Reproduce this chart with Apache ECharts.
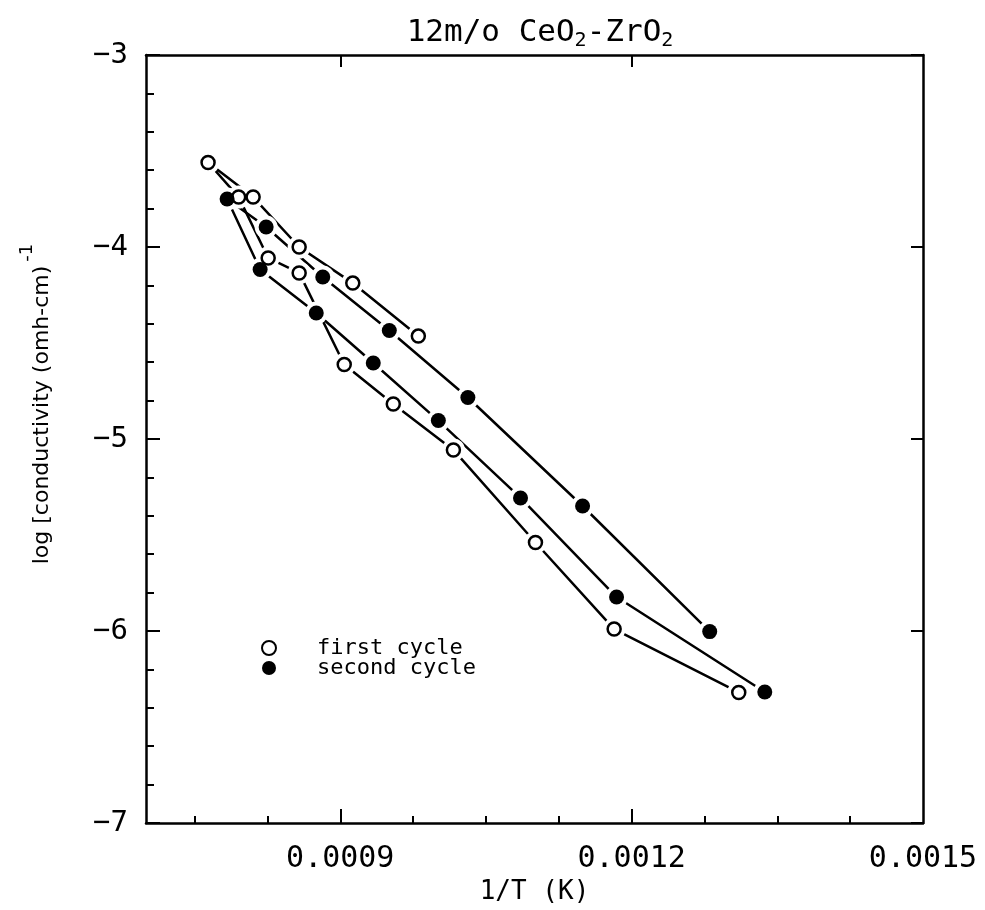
<!DOCTYPE html>
<html>
<head>
<meta charset="utf-8">
<script src="https://cdn.jsdelivr.net/npm/echarts@6/dist/echarts.min.js"></script>
<style>
html,body{margin:0;padding:0;background:#fff;}
#chart{width:985px;height:910px;}
</style>
</head>
<body>
<div id="chart"></div>
<script>
// ---- data ----
const firstCycleX = [0.0009804, 0.0009129, 0.0008577, 0.0008103, 0.0007639, 0.0007954, 0.0008258, 0.0008577, 0.0009041, 0.0009546, 0.0010165, 0.0011010, 0.0011820, 0.0013103];
const firstCycleY = [-4.464, -4.188, -4.000, -3.740, -3.560, -3.740, -4.057, -4.135, -4.612, -4.818, -5.057, -5.539, -5.990, -6.320];
const secondCycleX = [0.0012804, 0.0011495, 0.0010314, 0.0009505, 0.0008820, 0.0008237, 0.0007835, 0.0008175, 0.0008753, 0.0009340, 0.0010010, 0.0010856, 0.0011845, 0.0013371];
const secondCycleY = [-6.003, -5.349, -4.784, -4.435, -4.156, -3.896, -3.750, -4.117, -4.344, -4.604, -4.904, -5.307, -5.823, -6.318];
const xMinorTicks = [0.00075, 0.000825, 0.000975, 0.00105, 0.001125, 0.001275, 0.00135, 0.001425];
const xMajorTicks = [0.0009, 0.0012];
const xTickLabels = [0.0009, 0.0012, 0.0015];
const seriesNames = ['first cycle', 'second cycle'];

const pairs = (xs, ys) => xs.map((x, i) => [x, ys[i]]);
const firstData = pairs(firstCycleX, firstCycleY);
const secondData = pairs(secondCycleX, secondCycleY);

const MONO = 'DejaVu Sans Mono';
const SANS = 'DejaVu Sans';
const chart = echarts.init(document.getElementById('chart'), null, {renderer: 'canvas'});

const baseX = {
  type: 'value', min: 0.0007, max: 0.0015, gridIndex: 0,
  splitLine: {show: false}
};

chart.setOption({
  animation: false,
  backgroundColor: '#fff',
  textStyle: {fontFamily: MONO, color: '#000'},
  title: {
    text: '{a|12m/o CeO}{s|2}{a|-ZrO}{s|2}',
    left: 535, top: 10, textAlign: 'center',
    textStyle: {
      fontFamily: MONO, fontSize: 31, fontWeight: 'normal', color: '#000',
      rich: {
        a: {fontFamily: MONO, fontSize: 31, fontWeight: 'normal', color: '#000'},
        s: {fontFamily: MONO, fontSize: 20, fontWeight: 'normal', color: '#000', padding: [16, 0, 0, 0]}
      }
    }
  },
  grid: {left: 146, right: 62, top: 55, bottom: 87, containLabel: false},
  legend: {
    orient: 'vertical', left: 256, top: 632,
    itemWidth: 14, itemHeight: 14, itemGap: -2,
    data: seriesNames,
    textStyle: {fontFamily: MONO, fontSize: 22, color: '#000', padding: [0, 0, 0, 36]}
  },
  xAxis: [
    Object.assign({}, baseX, {
      position: 'bottom',
      name: '1/T (K)', nameLocation: 'middle', nameGap: 47,
      nameTextStyle: {fontFamily: MONO, fontSize: 26, color: '#000'},
      axisLine: {show: true, lineStyle: {color: '#000', width: 2.5}},
      axisTick: {show: true, inside: true, length: 7, customValues: xMinorTicks, lineStyle: {color: '#000', width: 2}},
      axisLabel: {show: true, customValues: xTickLabels, margin: 21, fontFamily: MONO, fontSize: 30, color: '#000',
        formatter: v => v.toFixed(4)}
    }),
    Object.assign({}, baseX, {
      position: 'bottom',
      axisLine: {show: false},
      axisTick: {show: true, inside: true, length: 14, customValues: xMajorTicks, lineStyle: {color: '#000', width: 2}},
      axisLabel: {show: false}
    }),
    Object.assign({}, baseX, {
      position: 'top',
      axisLine: {show: true, lineStyle: {color: '#000', width: 2.5}},
      axisTick: {show: true, inside: true, length: 12, customValues: xMajorTicks, lineStyle: {color: '#000', width: 2}},
      axisLabel: {show: false}
    })
  ],
  yAxis: [
    {
      type: 'value', min: -7, max: -3, interval: 1, position: 'left',
      name: '{a|log [conductivity (omh-cm)}{s|-1}',
      nameLocation: 'middle', nameRotate: 90, nameGap: 80,
      nameTextStyle: {
        padding: [0, 0, 0, 70],
        rich: {
          a: {fontFamily: SANS, fontSize: 22, color: '#000'},
          s: {fontFamily: SANS, fontSize: 18, color: '#000', padding: [0, 0, 30, 4]}
        }
      },
      axisLine: {show: true, lineStyle: {color: '#000', width: 2.5}},
      axisTick: {show: true, inside: true, length: 14, lineStyle: {color: '#000', width: 2}},
      minorTick: {show: true, splitNumber: 5, length: 8, lineStyle: {color: '#000', width: 2}},
      axisLabel: {margin: 18, fontFamily: MONO, fontSize: 29, color: '#000',
        formatter: v => String(v).replace('-', '\u2212')},
      splitLine: {show: false}
    },
    {
      type: 'value', min: -7, max: -3, interval: 1, position: 'right',
      axisLine: {show: true, lineStyle: {color: '#000', width: 2.5}},
      axisTick: {show: true, inside: true, length: 12, lineStyle: {color: '#000', width: 2}},
      axisLabel: {show: false},
      splitLine: {show: false}
    }
  ],
  series: [
    {type: 'line', name: 'first-line', data: firstData, xAxisIndex: 0, yAxisIndex: 0, showSymbol: false,
      lineStyle: {color: '#000', width: 2.5}, z: 2, silent: true},
    {type: 'line', name: 'second-line', data: secondData, xAxisIndex: 0, yAxisIndex: 0, showSymbol: false,
      lineStyle: {color: '#000', width: 2.5}, z: 2, silent: true},
    {type: 'scatter', name: 'mask1', data: firstData, symbolSize: 23, itemStyle: {color: '#fff', opacity: 1}, z: 3, silent: true},
    {type: 'scatter', name: 'mask2', data: secondData, symbolSize: 23, itemStyle: {color: '#fff', opacity: 1}, z: 3, silent: true},
    {type: 'scatter', name: seriesNames[0], data: firstData, symbol: 'circle', symbolSize: 13,
      itemStyle: {color: '#fff', borderColor: '#000', borderWidth: 2.5, opacity: 1}, z: 4},
    {type: 'scatter', name: seriesNames[1], data: secondData, symbol: 'circle', symbolSize: 15,
      itemStyle: {color: '#000', borderColor: '#000', borderWidth: 0, opacity: 1}, z: 4}
  ]
});
</script>
</body>
</html>
